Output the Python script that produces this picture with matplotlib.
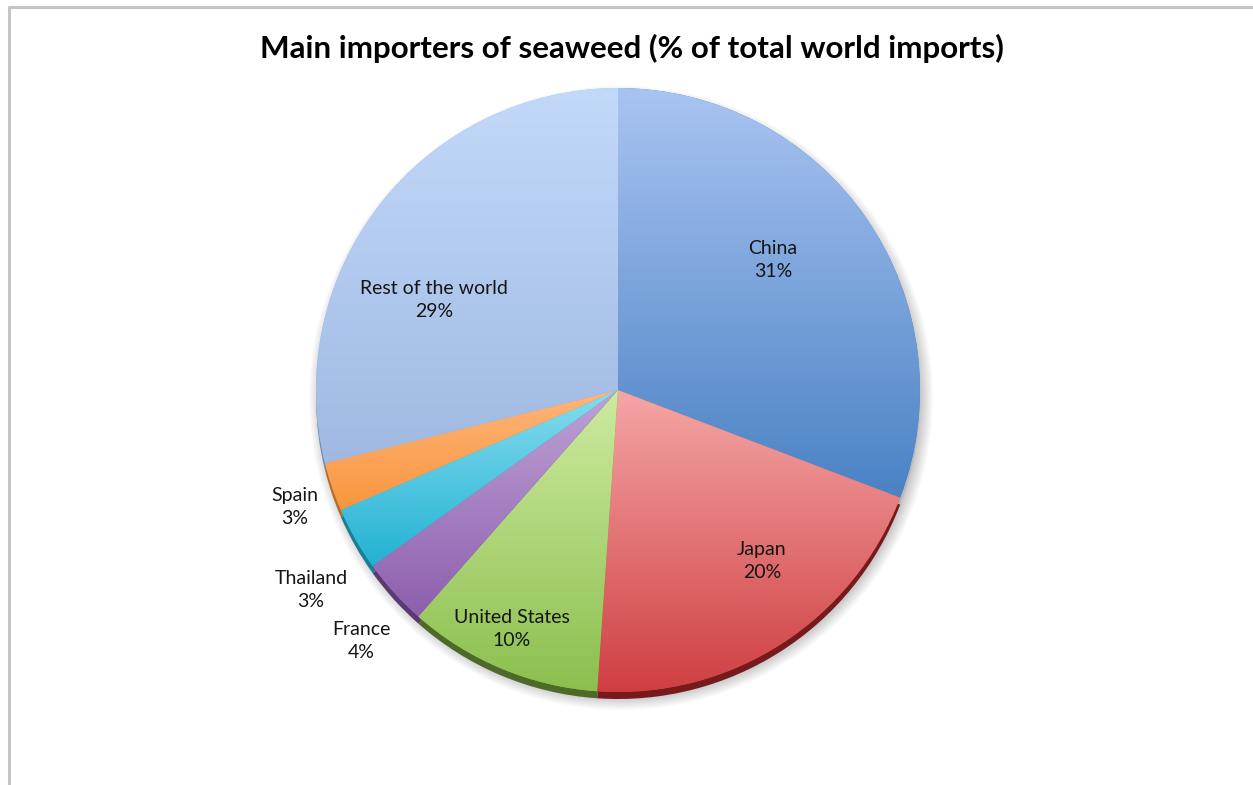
import numpy as np
import matplotlib.pyplot as plt
from matplotlib.colors import LinearSegmentedColormap
from matplotlib.patches import Circle

countries = ['China', 'Japan', 'United States', 'France', 'Thailand', 'Spain', 'Rest of the world']
shares = [30.8, 20.3, 10.4, 3.6, 3.4, 2.6, 28.9]
top_colors = ['#A9C4F2', '#F5A6A6', '#CDEBA0', '#BFA2D6', '#86DCF0', '#FFB57A', '#C2D9FA']
bottom_colors = ['#4A82C4', '#CF3F42', '#8CBF4E', '#8D5FAE', '#22B2D2', '#F8963E', '#A0B9E2']
rim_colors = ['#B8B8B8', '#761A1C', '#4E6A2A', '#5A3A70', '#1A7F96', '#B86A28', '#7088B0']

# label positions in pixel coords (x from left, y from top)
label_pos = [(773, 260), (762, 561), (512, 629), (361, 641), (311, 590), (295, 507), (434, 300)]

W, H = 1253, 785
cx, cy, r = 618, H - 390, 302

fig = plt.figure(figsize=(W / 100, H / 100), dpi=100)
ax = fig.add_axes([0, 0, 1, 1])
ax.set_xlim(0, W)
ax.set_ylim(0, H)
ax.axis('off')

# frame
ax.plot([9, 9, W + 5], [-5, H - 7, H - 7], color='#C4C4C4', lw=2.2, zorder=1, clip_on=False)

# soft shadow
for i in range(12):
    ax.add_patch(Circle((cx + 3, cy - 8), r + 10 - i * 1.2, color='black', alpha=0.018, lw=0, zorder=2))

# 3D rim below the pie
rim, _ = ax.pie(shares, colors=rim_colors, startangle=90, counterclock=False,
                center=(cx, cy - 7), radius=r, wedgeprops={'linewidth': 0}, frame=False)
for w in rim:
    w.set_zorder(3)

wedges, _ = ax.pie(shares, colors=bottom_colors, startangle=90, counterclock=False,
                   center=(cx, cy), radius=r, wedgeprops={'linewidth': 0}, frame=False)
grad = np.linspace(0, 1, 256)[:, None]
for w, c0, c1 in zip(wedges, bottom_colors, top_colors):
    w.set_zorder(4)
    ext = w.get_path().get_extents()
    cmap = LinearSegmentedColormap.from_list('g', [c0, c1])
    im = ax.imshow(grad, extent=[ext.x0, ext.x1, ext.y0, ext.y1], origin='lower',
                   cmap=cmap, aspect='auto', interpolation='bilinear', zorder=5)
    im.set_clip_path(w)

ax.set_xlim(0, W)
ax.set_ylim(0, H)
ax.set_aspect('auto')

for name, s, (x, y) in zip(countries, shares, label_pos):
    ax.text(x, H - y, f'{name}\n{round(s)}%', ha='center', va='center', fontsize=14,
            family='Lato', color='#151515', linespacing=1.4, zorder=6)

ax.text(632, H - 48, 'Main importers of seaweed (% of total world imports)', ha='center', va='center',
        fontsize=22.6, fontweight='bold', family='Lato', color='black', zorder=6)

fig.savefig('out.png', dpi=100)
